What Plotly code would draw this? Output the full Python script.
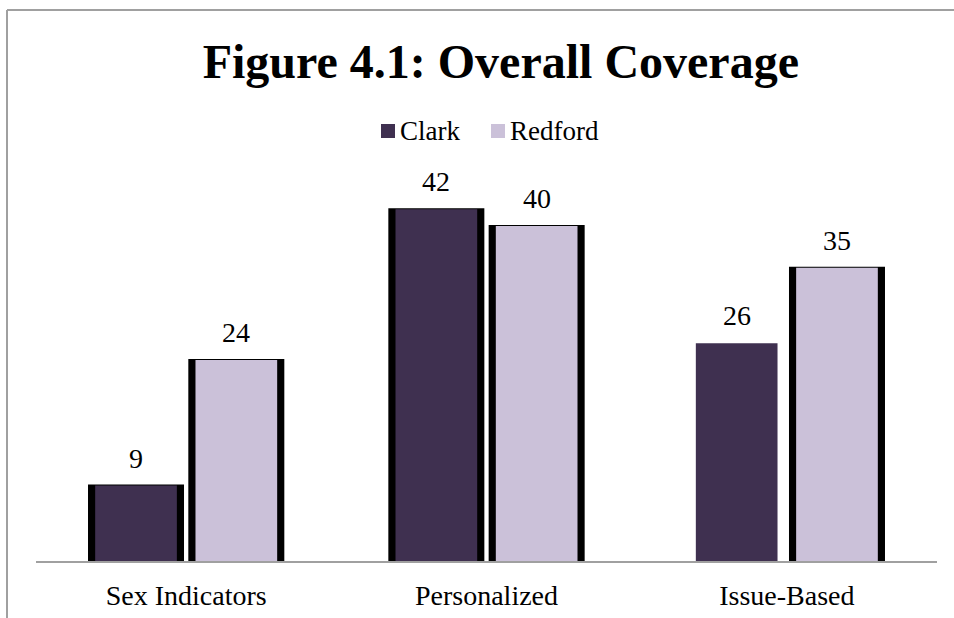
import plotly.graph_objects as go

categories = ["Sex Indicators", "Personalized", "Issue-Based"]
clark = [9, 42, 26]
redford = [24, 40, 35]
clark_shadow = [True, True, False]
redford_shadow = [True, True, True]
series_names = ["Clark", "Redford"]

CLARK_COLOR = "#3F3050"
REDFORD_COLOR = "#CBC1D9"
FONT = "Liberation Serif"
BORDER = "#A0A0A0"

W, H = 954, 618
L, R, T, B = 36, 17, 184, 57
YMAX = 45
PW = W - L - R
PH = H - T - B
CAT_PX = PW / len(categories)

fig = go.Figure()

def add_series(name, vals, shadow, color, center):
    sv = [v if s else None for v, s in zip(vals, shadow)]
    fig.add_trace(go.Bar(x=categories, y=sv, width=0.313, offset=center - 0.313 / 2,
                         marker=dict(color="black", line=dict(width=2, color="black")),
                         showlegend=False, hoverinfo="skip"))
    fig.add_trace(go.Bar(x=categories, y=vals, width=0.272, offset=center - 0.272 / 2,
                         name=name, showlegend=False,
                         marker=dict(color=color, line=dict(width=0))))
    for c, v in zip(categories, vals):
        fig.add_annotation(x=c, y=v, text=str(v), showarrow=False,
                           xshift=center * CAT_PX, yshift=10, yanchor="bottom",
                           font=dict(family=FONT, size=28, color="black"))

add_series(series_names[0], clark, clark_shadow, CLARK_COLOR, -0.167)
add_series(series_names[1], redford, redford_shadow, REDFORD_COLOR, 0.167)

def px_x(px):
    return (px - L) / PW

def px_y(py):
    return (H - B - py) / PH

# manual legend
shapes = []
legend_items = [(series_names[0], CLARK_COLOR, 381), (series_names[1], REDFORD_COLOR, 491)]
for name, color, x0 in legend_items:
    shapes.append(dict(type="rect", xref="paper", yref="paper",
                       x0=px_x(x0), x1=px_x(x0 + 14), y0=px_y(138), y1=px_y(124),
                       fillcolor=color, line=dict(width=0)))
    fig.add_annotation(xref="paper", yref="paper", x=px_x(x0 + 17), y=px_y(131),
                       xanchor="left", yanchor="middle", text=name, showarrow=False,
                       font=dict(family=FONT, size=27, color="black"))

shapes += [
    dict(type="line", xref="paper", yref="paper", x0=px_x(7), x1=px_x(7),
         y0=px_y(10), y1=px_y(H + 5), line=dict(color=BORDER, width=2)),
    dict(type="line", xref="paper", yref="paper", x0=px_x(7), x1=px_x(W + 5),
         y0=px_y(10), y1=px_y(10), line=dict(color=BORDER, width=2)),
]

fig.update_layout(
    width=W, height=H,
    margin=dict(l=L, r=R, t=T, b=B, autoexpand=False),
    barmode="overlay",
    paper_bgcolor="white", plot_bgcolor="white",
    showlegend=False,
    title=dict(text="<b>Figure 4.1: Overall Coverage</b>", x=0.525, xanchor="center",
               y=1 - 61 / H, yanchor="middle",
               font=dict(family=FONT, size=48, color="black")),
    xaxis=dict(showline=True, linecolor=BORDER, linewidth=2, ticks="",
               tickfont=dict(family=FONT, size=28, color="black"), showgrid=False,
               automargin=False, ticklabelstandoff=8),
    yaxis=dict(range=[0, YMAX], visible=False, showgrid=False, automargin=False),
    shapes=shapes,
)

fig.write_html("out.html")
